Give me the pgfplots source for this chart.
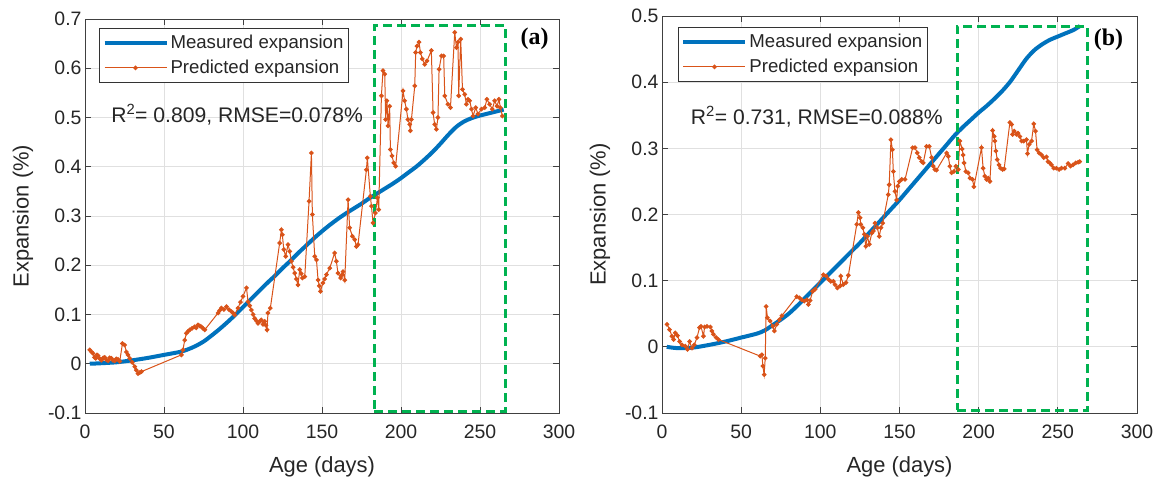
\documentclass[border=0pt]{standalone}
\usepackage{fontspec}
\setmainfont{Liberation Sans}
\newfontfamily\timesfont{Liberation Serif}
\usepackage{pgfplots}
\pgfplotsset{compat=1.18}

\definecolor{mblue}{RGB}{0,114,189}
\definecolor{morange}{RGB}{217,83,25}
\definecolor{mgreen}{RGB}{0,178,80}
\definecolor{mtext}{RGB}{38,38,38}

\pgfplotsset{
  panel/.style={
    scale only axis,
    width=474bp,
    xmin=0, xmax=300,
    xtick={0,50,100,150,200,250,300},
    xticklabels={0,50,100,150,200,250,300},
    grid=major,
    grid style={black!12, line width=0.7bp},
    axis line style={black!75, line width=0.8bp},
    tick style={black!75, line width=0.8bp},
    major tick length=6bp,
    tick align=inside,
    ticklabel style={font=\fontsize{19.5}{22}\selectfont, text=mtext},
    xticklabel style={yshift=-8bp},
    label style={font=\fontsize{22}{26}\selectfont, text=mtext},
    xlabel={Age (days)},
    ylabel={Expansion (\%)},
    xlabel style={yshift=-12bp},
    ylabel style={yshift=8bp},
    legend cell align=left,
    legend style={draw=black!80, line width=0.6bp, anchor=north west,
      font=\fontsize{18.7}{23}\selectfont, text=mtext,
      inner xsep=3bp, inner ysep=5bp, row sep=6bp},
    legend image code/.code={%
      \draw[mark repeat=2, mark phase=2, #1]
        plot coordinates {(0bp,0bp) (31bp,0bp) (62bp,0bp)};},
  },
  measured/.style={mblue, line width=4bp, smooth, no markers},
  predicted/.style={morange, line width=1bp, mark=*, mark size=1.8bp,
    mark options={fill=morange, draw=morange}},
  box/.style={mgreen, line width=3bp, dash pattern=on 9bp off 5bp, forget plot},
}

\begin{document}
\begin{tikzpicture}
\useasboundingbox (0bp,0bp) rectangle (1157bp,481bp);

% ---------------- (a) ----------------
\begin{axis}[panel,
  at={(85bp,68bp)}, anchor=south west,
  height=394bp,
  ymin=-0.1, ymax=0.7,
  ytick={-0.1,0,0.1,0.2,0.3,0.4,0.5,0.6,0.7},
  yticklabels={-0.1,0,0.1,0.2,0.3,0.4,0.5,0.6,0.7},
  legend style={at={(0.03,0.977)}},
]
\addplot[measured] coordinates {
(3,0) (10,0.001) (20,0.003) (30,0.007) (40,0.012) (50,0.018) (60,0.024)
(65,0.029) (70,0.036) (75,0.045) (80,0.057) (85,0.070) (90,0.084) (95,0.099)
(100,0.115) (105,0.131) (110,0.147) (115,0.163) (120,0.178) (125,0.194)
(130,0.209) (135,0.225) (140,0.240) (145,0.255) (150,0.269) (155,0.282)
(160,0.294) (165,0.305) (170,0.315) (175,0.325) (180,0.336) (185,0.346)
(190,0.356) (195,0.366) (200,0.377) (205,0.389) (210,0.401) (215,0.415)
(220,0.430) (225,0.447) (230,0.465) (235,0.481) (240,0.492) (245,0.499)
(250,0.504) (255,0.508) (260,0.512) (265,0.516)
};
\addlegendentry{Measured expansion}
\addplot[predicted] coordinates {
(3.0,0.028) (4.2,0.024) (5.1,0.021) (6.0,0.013) (6.8,0.011) (7.6,0.018)
(8.3,0.016) (9.4,0.010) (10.4,0.007) (11.5,0.012) (12.5,0.013) (13.5,0.008)
(14.6,0.006) (15.6,0.012) (16.7,0.011) (17.7,0.007) (18.8,0.006) (19.8,0.010)
(20.9,0.009) (22.0,0.005) (23.7,0.041) (25.1,0.038) (26.2,0.024) (27.2,0.018)
(28.3,0.011) (29.9,0.003) (31.5,-0.006) (32.5,-0.013) (33.5,-0.020)
(34.6,-0.018) (35.7,-0.016) (61.0,0.018) (62.0,0.028) (63.1,0.048)
(64.2,0.062) (65.2,0.066) (66.3,0.069) (67.8,0.072) (69.4,0.075) (70.4,0.073)
(71.5,0.079) (72.6,0.077) (73.7,0.075) (74.7,0.072) (75.8,0.069) (84.2,0.103)
(85.2,0.108) (86.3,0.113) (87.9,0.110) (89.5,0.116) (91.1,0.110) (92.7,0.106)
(93.7,0.103) (94.7,0.099) (96.8,0.113) (98.4,0.125) (100.0,0.137)
(102.2,0.154) (103.2,0.126) (104.2,0.118) (105.3,0.109) (106.4,0.100)
(107.4,0.092) (108.5,0.087) (109.5,0.082) (110.6,0.086) (111.6,0.089)
(112.7,0.080) (113.7,0.086) (114.5,0.078) (115.2,0.069) (115.8,0.103)
(117.3,0.113) (123.2,0.245) (124.3,0.272) (124.9,0.262) (125.8,0.232)
(127.0,0.218) (128.5,0.242) (129.6,0.228) (130.6,0.208) (131.7,0.196)
(132.7,0.184) (133.8,0.172) (134.8,0.160) (135.9,0.191) (136.8,0.183)
(137.6,0.174) (139.1,0.177) (141.8,0.330) (143.3,0.428) (143.9,0.303)
(145.4,0.218) (146.5,0.211) (147.5,0.170) (148.3,0.158) (149.0,0.147)
(150.6,0.164) (151.7,0.172) (152.8,0.181) (154.9,0.194) (158.0,0.225)
(159.1,0.208) (160.1,0.184) (161.8,0.174) (162.5,0.180) (163.3,0.187)
(164.4,0.170) (166.5,0.333) (167.5,0.276) (169.2,0.259) (170.7,0.252)
(171.8,0.238) (172.8,0.242) (178.1,0.394) (178.7,0.418) (180.6,0.340)
(181.3,0.320) (182.3,0.286) (183.8,0.306) (185.1,0.337) (185.9,0.313)
(187.6,0.544) (188.6,0.595) (189.7,0.588) (190.3,0.496) (191.1,0.534)
(191.8,0.483) (192.8,0.523) (193.3,0.435) (194.3,0.422) (195.4,0.408)
(196.6,0.401) (201.3,0.554) (202.3,0.534) (203.4,0.517) (204.4,0.496)
(205.5,0.486) (205.9,0.473) (206.6,0.496) (208.7,0.564) (209.3,0.632)
(210.1,0.645) (211.4,0.653) (212.3,0.632) (213.5,0.619) (215.0,0.608)
(216.5,0.615) (219.2,0.636) (220.3,0.510) (221.3,0.486) (222.4,0.476)
(223.4,0.500) (224.1,0.598) (225.6,0.625) (227.0,0.625) (227.7,0.544)
(229.7,0.527) (231.3,0.520) (234.0,0.673) (235.1,0.642) (236.1,0.653)
(236.5,0.544) (237.8,0.659) (238.9,0.557) (240.3,0.547) (241.4,0.527)
(242.4,0.537) (243.5,0.534) (244.6,0.517) (245.6,0.503) (247.3,0.520)
(248.7,0.507) (250.9,0.517) (253.0,0.520) (254.4,0.537) (256.1,0.527)
(257.8,0.517) (259.3,0.534) (260.8,0.523) (262.0,0.537) (262.9,0.520)
(264.2,0.503)
};
\addlegendentry{Predicted expansion}
\addplot[box] coordinates {(183,-0.096) (266,-0.096) (266,0.686) (183,0.686) (183,-0.096)};
\node[anchor=west, font=\fontsize{21.2}{25}\selectfont, text=mtext]
  at (axis cs:14.4,0.506) {R\textsuperscript{2}= 0.809, RMSE=0.078\%};
\node[font=\timesfont\bfseries\fontsize{24}{28}\selectfont]
  at (axis cs:284.6,0.659) {(a)};
\end{axis}

% ---------------- (b) ----------------
\begin{axis}[panel,
  at={(662bp,68bp)}, anchor=south west,
  width=475bp, height=397bp,
  ymin=-0.1, ymax=0.5,
  ytick={-0.1,0,0.1,0.2,0.3,0.4,0.5},
  yticklabels={-0.1,0,0.1,0.2,0.3,0.4,0.5},
  legend style={at={(0.034,0.972)}},
]
\addplot[measured] coordinates {
(3,0) (10,-0.002) (20,-0.001) (30,0.003) (40,0.008) (50,0.014) (60,0.020)
(65,0.025) (70,0.033) (75,0.041) (80,0.050) (85,0.061) (90,0.073) (95,0.085)
(100,0.097) (105,0.109) (110,0.121) (115,0.133) (120,0.145) (125,0.157)
(130,0.170) (135,0.183) (140,0.196) (145,0.209) (150,0.222) (155,0.236)
(160,0.250) (165,0.264) (170,0.278) (175,0.292) (180,0.306) (185,0.320)
(190,0.332) (195,0.343) (200,0.354) (205,0.364) (210,0.375) (215,0.387)
(220,0.401) (225,0.418) (230,0.435) (235,0.448) (240,0.457) (245,0.464)
(250,0.469) (255,0.474) (260,0.479) (264,0.485)
};
\addlegendentry{Measured expansion}
\addplot[predicted] coordinates {
(3.2,0.034) (4.8,0.026) (6.3,0.016) (7.3,0.011) (8.4,0.021) (9.8,0.017)
(11.1,0.008) (12.6,0.003) (14.7,0.001) (16.1,-0.004) (17.4,0.008)
(18.9,-0.002) (20.4,0.003) (22.1,0.014) (23.7,0.029) (24.6,0.031)
(26.2,0.016) (26.9,0.030) (28.4,0.031) (30.5,0.030) (31.5,0.024)
(32.5,0.019) (34.2,0.014) (35.7,0.011) (62.0,-0.014) (63.1,-0.012)
(63.7,-0.029) (64.5,-0.042) (65.2,-0.017) (65.8,0.061) (66.6,0.044)
(68.3,0.039) (70.0,0.031) (71.0,0.024) (72.5,0.034) (74.2,0.041)
(75.7,0.047) (85.1,0.076) (86.8,0.074) (88.3,0.071) (89.8,0.069)
(91.5,0.071) (92.5,0.064) (93.5,0.070) (95.2,0.084) (96.7,0.087)
(101.9,0.109) (103.6,0.107) (105.1,0.102) (106.6,0.099) (108.2,0.099)
(109.3,0.094) (110.8,0.089) (112.5,0.092) (112.9,0.107) (114.5,0.094)
(116.2,0.097) (117.7,0.108) (123.0,0.185) (124.0,0.203) (125.1,0.195)
(125.5,0.185) (126.8,0.180) (127.8,0.170) (128.7,0.152) (129.7,0.167)
(130.9,0.155) (132.5,0.172) (133.5,0.175) (134.5,0.187) (136.0,0.180)
(137.2,0.167) (138.3,0.180) (139.4,0.187) (142.9,0.230) (143.5,0.245)
(144.6,0.313) (145.5,0.298) (146.1,0.265) (147.1,0.235) (148.2,0.222)
(148.9,0.243) (149.9,0.250) (151.4,0.253) (153.5,0.253) (158.3,0.301)
(159.8,0.301) (161.2,0.293) (162.5,0.286) (164.0,0.280) (165.0,0.278)
(167.1,0.303) (168.8,0.303) (170.3,0.286) (171.3,0.273) (172.4,0.268)
(173.4,0.267) (179.8,0.293) (180.8,0.288) (181.8,0.273) (182.9,0.263)
(184.4,0.265) (185.6,0.273) (187.1,0.268) (188.1,0.311) (189.6,0.299)
(190.2,0.290) (190.8,0.278) (191.9,0.265) (193.4,0.263) (194.5,0.255)
(196.1,0.253) (197.0,0.242) (201.8,0.301) (202.8,0.270) (203.9,0.258)
(205.0,0.253) (206.0,0.255) (207.1,0.250) (208.8,0.327) (209.8,0.318)
(210.2,0.311) (210.9,0.296) (211.7,0.283) (212.9,0.275) (213.8,0.270)
(215.1,0.268) (216.1,0.269) (219.7,0.339) (220.8,0.336) (221.4,0.321)
(222.4,0.326) (223.9,0.321) (224.9,0.323) (226.0,0.318) (227.1,0.311)
(228.5,0.311) (230.2,0.313) (230.8,0.292) (231.9,0.306) (233.4,0.311)
(234.8,0.337) (235.9,0.326) (236.9,0.298) (238.2,0.293) (239.7,0.290)
(241.1,0.286) (242.8,0.287) (243.8,0.280) (244.9,0.278) (246.0,0.275)
(247.4,0.270) (249.1,0.270) (250.8,0.268) (252.3,0.270) (254.4,0.270)
(256.5,0.277) (258.0,0.273) (259.6,0.275) (261.3,0.278) (262.8,0.279)
(263.8,0.280)
};
\addlegendentry{Predicted expansion}
\addplot[box] coordinates {(186.4,-0.096) (269,-0.096) (269,0.484) (186.4,0.484) (186.4,-0.096)};
\node[anchor=west, font=\fontsize{21.2}{25}\selectfont, text=mtext]
  at (axis cs:16,0.348) {R\textsuperscript{2}= 0.731, RMSE=0.088\%};
\node[font=\timesfont\bfseries\fontsize{24}{28}\selectfont]
  at (axis cs:282,0.464) {(b)};
\end{axis}
\end{tikzpicture}
\end{document}
